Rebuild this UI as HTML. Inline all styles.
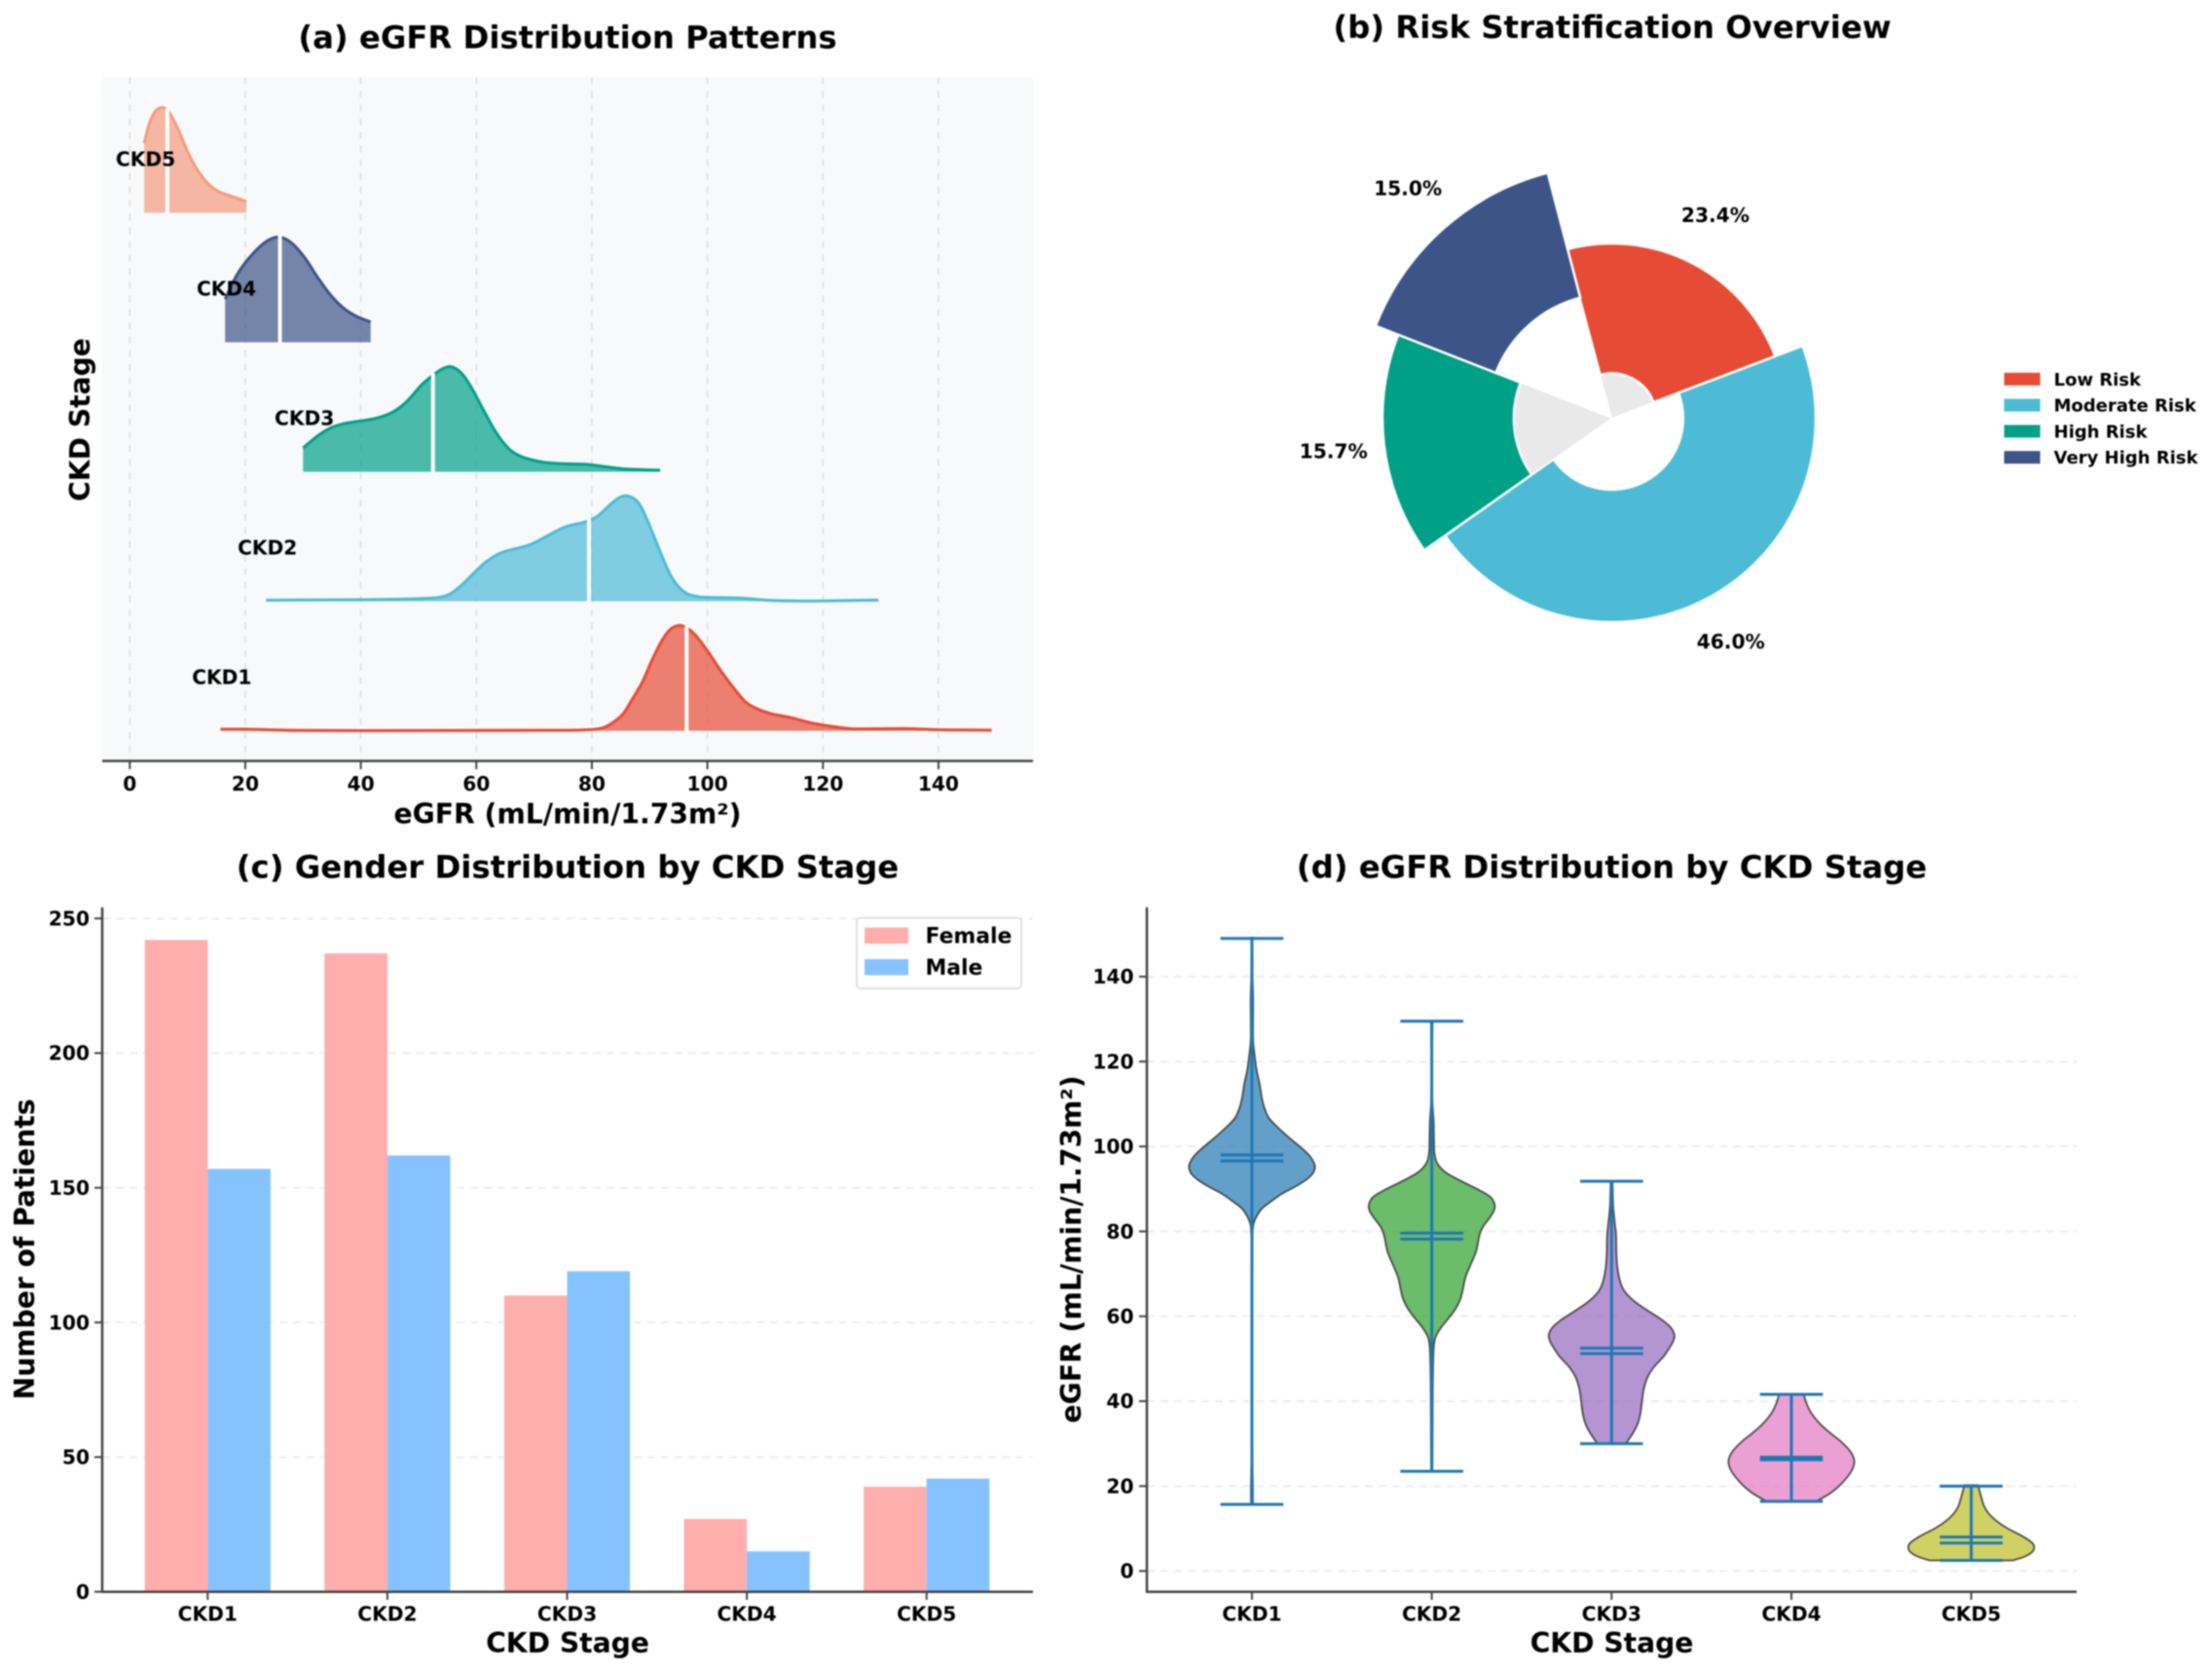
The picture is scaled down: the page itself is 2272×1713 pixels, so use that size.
<!DOCTYPE html>
<html lang="en">
<head>
<meta charset="utf-8">
<title>CKD overview figure</title>
<style>
html,body{margin:0;padding:0;background:#fff;width:2272px;height:1713px;overflow:hidden}
svg{display:block;filter:blur(0.8px)}
text{font-family:"DejaVu Sans","Liberation Sans",sans-serif;font-weight:700;fill:#000}
</style>
</head>
<body>
<svg id="fig" xmlns="http://www.w3.org/2000/svg" width="2272" height="1713" viewBox="0 0 2272 1713">
  <rect x="0" y="0" width="2272" height="1713" fill="#fff"/>
  <g id="panelA">
    <rect x="105" y="79.5" width="956" height="702" fill="#f8f9fa"/>
    <text x="583" y="49.5" font-size="32.3" text-anchor="middle">(a) eGFR Distribution Patterns</text>
    <text x="583" y="845.5" font-size="28.2" text-anchor="middle">eGFR (mL/min/1.73m²)</text>
    <text transform="translate(92,431) rotate(-90)" font-size="28.2" text-anchor="middle">CKD Stage</text>
  </g>
  <g id="panelB">
    <text x="1656" y="39" font-size="32.35" text-anchor="middle">(b) Risk Stratification Overview</text>
  </g>
  <g id="panelC">
    <text x="583" y="901.5" font-size="32.35" text-anchor="middle">(c) Gender Distribution by CKD Stage</text>
    <text x="583" y="1697" font-size="28.2" text-anchor="middle">CKD Stage</text>
    <text transform="translate(35,1283) rotate(-90)" font-size="28.2" text-anchor="middle">Number of Patients</text>
  </g>
  <g id="panelD">
    <text x="1655.5" y="901.5" font-size="32.35" text-anchor="middle">(d) eGFR Distribution by CKD Stage</text>
    <text x="1655.5" y="1697" font-size="28.2" text-anchor="middle">CKD Stage</text>
    <text transform="translate(1110,1283) rotate(-90)" font-size="28.2" text-anchor="middle">eGFR (mL/min/1.73m²)</text>
  </g>
</svg>
<script>
// ---------- data ----------
const stages = ['CKD1','CKD2','CKD3','CKD4','CKD5'];

const ckd1Egfr = [15.7,20,30,60,75,80,82,83.7,85.4,87,88.8,90.4,92.1,93.5,94.9,96,97.75,100,102.2,104.5,106.7,109,111.2,114.6,118,121.4,124.7,128.7,134.8,139.9,149.2];
const ckd1Density = [0.015,0.015,0.003,0.003,0.005,0.012,0.03,0.08,0.16,0.3,0.47,0.67,0.855,0.96,1,0.99,0.92,0.76,0.58,0.41,0.27,0.2,0.16,0.123,0.074,0.043,0.02,0.018,0.02,0.01,0.006];
const ckd2Egfr = [23.6,39.9,52.3,55.1,57.3,59.6,61.8,64.1,66.3,69.1,71.9,75.3,79.2,81,83.2,84.9,86.3,88,89.6,91.6,93.9,96.1,98.4,100,105.7,110,115,120,129.6];
const ckd2Density = [0.01,0.015,0.03,0.06,0.146,0.27,0.38,0.456,0.494,0.534,0.61,0.705,0.76,0.81,0.92,0.99,1,0.94,0.77,0.5,0.22,0.084,0.043,0.037,0.03,0.012,0.003,0.003,0.012];
const ckd3Egfr = [30,32.6,34.8,37.1,39.9,42.7,45.5,47.8,50.6,52.4,54,55.5,57.3,59,61.3,63.5,65.8,68,71.4,74.7,79.2,82.6,86,91.8];
const ckd3Density = [0.226,0.344,0.418,0.458,0.483,0.51,0.567,0.66,0.83,0.913,0.975,1,0.944,0.814,0.58,0.365,0.21,0.14,0.093,0.077,0.07,0.046,0.025,0.015];
const ckd4Egfr = [16.5,18.55,20.8,23.6,25.9,28.1,30.4,32.6,34.85,37.1,39.3,41.7];
const ckd4Density = [0.41,0.64,0.81,0.957,1,0.94,0.795,0.61,0.443,0.32,0.245,0.193];
const ckd5Egfr = [2.5,3.4,4.5,5.7,6.75,8.4,10.1,11.8,13.5,15.2,17.4,20.2];
const ckd5Density = [0.66,0.85,0.97,1,0.96,0.79,0.57,0.4,0.28,0.207,0.16,0.108];

const ridgeMedians = [96.4,79.5,52.5,26,6.5];
const ridgeTicks = [0,20,40,60,80,100,120,140];

const riskLabels = ['Low Risk','Moderate Risk','High Risk','Very High Risk'];
const riskPercent = [23.4,46.0,15.7,15.0];

const femaleCounts = [242,237,110,27,39];
const maleCounts = [157,162,119,15,42];
const countTicks = [0,50,100,150,200,250];

const violinMin = [15.7,23.5,30,16.4,2.5];
const violinMax = [149,129.5,91.8,41.6,20];
const violinMean = [98,79.6,52.5,26.8,8];
const violinMedian = [96.6,78.2,51.2,26.2,6.6];
const violinTicks = [0,20,40,60,80,100,120,140];

// ---------- helpers ----------
const NS = 'http://www.w3.org/2000/svg';
const allEgfr = [ckd1Egfr,ckd2Egfr,ckd3Egfr,ckd4Egfr,ckd5Egfr];
const allDensity = [ckd1Density,ckd2Density,ckd3Density,ckd4Density,ckd5Density];
const ridgeColors = ['#E64B35','#4DBBD5','#00A087','#3C5488','#F39B7F'];
const violinColors = ['#1f77b4','#2ca02c','#9467bd','#e377c2','#bcbd22'];
const riskColors = ['#E64B35','#4DBBD5','#00A087','#3C5488'];
const slug = s => s.toLowerCase().replace(/\s+/g,'-');

function mk(tag, parent, attrs, txt){
  const e = document.createElementNS(NS, tag);
  for (const k in attrs) e.setAttribute(k, attrs[k]);
  if (txt !== undefined) e.textContent = txt;
  parent.appendChild(e);
  return e;
}
function smooth(p){
  return 'M' + p[0][0].toFixed(2) + ' ' + p[0][1].toFixed(2) + smoothTail(p);
}
// chord-length parameterised spline: stays smooth with unevenly spaced samples
function smoothTail(p){
  const n = p.length;
  const t = [0];
  for (let i = 1; i < n; i++) t[i] = t[i-1] + Math.max(0.01, Math.hypot(p[i][0]-p[i-1][0], p[i][1]-p[i-1][1]));
  const tan = p.map((q,i) => {
    const a = Math.max(i-1,0), b = Math.min(i+1,n-1);
    const dt = t[b]-t[a];
    return [(p[b][0]-p[a][0])/dt, (p[b][1]-p[a][1])/dt];
  });
  let d = '';
  for (let i = 0; i < n-1; i++){
    const h = (t[i+1]-t[i])/3;
    d += 'C' + (p[i][0]+tan[i][0]*h).toFixed(2) + ' ' + (p[i][1]+tan[i][1]*h).toFixed(2) + ' '
      + (p[i+1][0]-tan[i+1][0]*h).toFixed(2) + ' ' + (p[i+1][1]-tan[i+1][1]*h).toFixed(2) + ' '
      + p[i+1][0].toFixed(2) + ' ' + p[i+1][1].toFixed(2);
  }
  return d;
}
function interp(xs, ys, v){
  if (v <= xs[0]) return ys[0];
  for (let i = 1; i < xs.length; i++){
    if (v <= xs[i]) return ys[i-1] + (ys[i]-ys[i-1])*(v-xs[i-1])/(xs[i]-xs[i-1]);
  }
  return ys[ys.length-1];
}

// ---------- panel a : ridgeline ----------
const gA = document.getElementById('panelA');
const xA = v => 133.3 + v*5.933;
const baseA = i => 750.5 - 133*i;
const heightA = d => d*108;

ridgeTicks.forEach(t => {
  const g = mk('line', gA, {x1:xA(t),x2:xA(t),y1:79.5,y2:781.5,stroke:'#dcdfe3','stroke-width':1.6,'stroke-dasharray':'7 7'});
  
  
});
stages.forEach((s,i) => {
  const xs = allEgfr[i], ds = allDensity[i];
  const pts = xs.map((v,k) => [xA(v), baseA(i) - heightA(ds[k])]);
  const col = ridgeColors[i];
  const fill = mk('path', gA, {d: smooth(pts) + 'L' + pts[pts.length-1][0] + ' ' + baseA(i) + 'L' + pts[0][0] + ' ' + baseA(i) + 'Z', fill:col, 'fill-opacity':0.7, stroke:'none'});
  
  
  const line = mk('path', gA, {d: smooth(pts), fill:'none', stroke:col, 'stroke-width':3, 'stroke-linejoin':'round'});
  
  
  const m = ridgeMedians[i];
  const med = mk('line', gA, {x1:xA(m),x2:xA(m),y1:baseA(i)+1,y2:baseA(i)-heightA(interp(xs,ds,m))-2.5,stroke:'#fff','stroke-width':4});
  
  
});
stages.forEach((s,i) => {
  const lab = mk('text', gA, {x:xA(allEgfr[i][0])+1.4, y:baseA(i)-54+6, 'font-size':20.2, 'text-anchor':'middle'}, s);
  
  
});
const spineA = mk('line', gA, {x1:105,x2:1061,y1:781.5,y2:781.5,stroke:'#444','stroke-width':2.5});


ridgeTicks.forEach(t => {
  const m = mk('line', gA, {x1:xA(t),x2:xA(t),y1:781.5,y2:790,stroke:'#444','stroke-width':2});
  
  
  const l = mk('text', gA, {x:xA(t),y:812,'font-size':20.2,'text-anchor':'middle'}, String(t));
  
  
});

// ---------- panel b : pie ----------
const gB = document.getElementById('panelB');
const cxB = 1655.5, cyB = 429.5;
const polar = (r,a) => [cxB + r*Math.cos(a*Math.PI/180), cyB - r*Math.sin(a*Math.PI/180)];
const ringOuter = i => 179.5 + (i === 0 ? 0 : i === 1 ? 30 : i === 2 ? 56 : 81);
const ringInner = i => 46 + 27.3*i;
const labelRadius = i => 233.5 + 27.2*i;
function ring(r0, r1, a0, a1){
  const large = (a0-a1) > 180 ? 1 : 0;
  const p1 = polar(r1,a0), p2 = polar(r1,a1);
  if (r0 <= 0) return 'M' + cxB + ' ' + cyB + 'L' + p1.join(' ') + 'A' + r1 + ' ' + r1 + ' 0 ' + large + ' 1 ' + p2.join(' ') + 'Z';
  const p3 = polar(r0,a1), p4 = polar(r0,a0);
  return 'M' + p1.join(' ') + 'A' + r1 + ' ' + r1 + ' 0 ' + large + ' 1 ' + p2.join(' ') + 'L' + p3.join(' ') + 'A' + r0 + ' ' + r0 + ' 0 ' + large + ' 0 ' + p4.join(' ') + 'Z';
}
let ang = 105;
riskPercent.forEach((p,i) => {
  const a0 = ang, a1 = ang - p*3.6;
  ang = a1;
  const outer = ringOuter(i);
  const inner = ringInner(i);
  if (i % 2 === 0){
    const core = mk('path', gB, {d: ring(0, inner, a0, a1), fill:'#e9e9e9', stroke:'#fff', 'stroke-width':1});
    
    
  }
  const w = mk('path', gB, {d: ring(inner, outer, a0, a1), fill:riskColors[i], stroke:'#fff', 'stroke-width':2.5, 'stroke-linejoin':'miter'});
  
  
  const lp = polar(labelRadius(i), (a0+a1)/2);
  const t = mk('text', gB, {x:lp[0], y:lp[1]+6.4, 'font-size':20.2, 'text-anchor':'middle'}, p.toFixed(1) + '%');
  
  
});
riskLabels.forEach((s,i) => {
  const cy = 389.3 + 26.8*i;
  const sw = mk('rect', gB, {x:2058.5,y:cy-6.5,width:37,height:13,fill:riskColors[i]});
  
  
  const t = mk('text', gB, {x:2109.5,y:cy+6.5,'font-size':18}, s);
  
  
});

// ---------- panel c : bars ----------
const gC = document.getElementById('panelC');
const xC = i => 213.3 + 184.6*i;
const yC = v => 1634.7 - v*2.766;
const barW = 64.6;
countTicks.forEach(t => {
  if (t > 0){
    const g = mk('line', gC, {x1:105,x2:1061,y1:yC(t),y2:yC(t),stroke:'#ededed','stroke-width':2,'stroke-dasharray':'8 6'});
    
    
  }
  const m = mk('line', gC, {x1:97,x2:105,y1:yC(t),y2:yC(t),stroke:'#444','stroke-width':2});
  
  
  const l = mk('text', gC, {x:92,y:yC(t)+7.2,'font-size':20.2,'text-anchor':'end'}, String(t));
  
  
});
stages.forEach((s,i) => {
  const f = mk('rect', gC, {x:xC(i)-barW,y:yC(femaleCounts[i]),width:barW,height:yC(0)-yC(femaleCounts[i]),fill:'#FFADAD'});
  
  
  const b = mk('rect', gC, {x:xC(i),y:yC(maleCounts[i]),width:barW,height:yC(0)-yC(maleCounts[i]),fill:'#85C2FF'});
  
  
  const m = mk('line', gC, {x1:xC(i),x2:xC(i),y1:1634.7,y2:1643,stroke:'#444','stroke-width':2});
  
  
  const l = mk('text', gC, {x:xC(i),y:1664.5,'font-size':20.2,'text-anchor':'middle'}, s);
  
  
});
const cs1 = mk('line', gC, {x1:105,x2:105,y1:931.8,y2:1635.9,stroke:'#444','stroke-width':2.5});


const cs2 = mk('line', gC, {x1:105,x2:1061,y1:1634.7,y2:1634.7,stroke:'#444','stroke-width':2.5});


const lb = mk('rect', gC, {x:880,y:942.7,width:169,height:72.5,rx:4,fill:'#fff','fill-opacity':0.85,stroke:'#ddd','stroke-width':1.8});


const sf = mk('rect', gC, {x:888,y:952.5,width:45,height:16.5,fill:'#FFADAD'});


const tf = mk('text', gC, {x:950.5,y:968.5,'font-size':21.9}, 'Female');


const sm = mk('rect', gC, {x:888,y:985,width:45,height:16.5,fill:'#85C2FF'});


const tm = mk('text', gC, {x:950.5,y:1001,'font-size':21.9}, 'Male');



// ---------- panel d : violins ----------
const gD = document.getElementById('panelD');
const xD = i => 1285.9 + 184.7*i;
const yD = v => 1613.4 - v*4.36;
const halfW = d => d*64.6;
const capW = 32.3;
violinTicks.forEach(t => {
  const g = mk('line', gD, {x1:1178,x2:2133,y1:yD(t),y2:yD(t),stroke:'#ededed','stroke-width':2,'stroke-dasharray':'8 6'});
  
  
  const m = mk('line', gD, {x1:1170,x2:1178,y1:yD(t),y2:yD(t),stroke:'#444','stroke-width':2});
  
  
  const l = mk('text', gD, {x:1164.5,y:yD(t)+7.2,'font-size':20.2,'text-anchor':'end'}, String(t));
  
  
});
stages.forEach((s,i) => {
  const xs = allEgfr[i], ds = allDensity[i], cx = xD(i);
  const right = xs.map((v,k) => [cx + halfW(ds[k]), yD(v)]);
  const left = xs.map((v,k) => [cx - halfW(ds[k]), yD(v)]).reverse();
  const d = smooth(right) + 'L' + left[0][0].toFixed(2) + ' ' + left[0][1].toFixed(2) + smoothTail(left) + 'Z';
  const v = mk('path', gD, {d:d, fill:violinColors[i], 'fill-opacity':0.7, stroke:'#333', 'stroke-opacity':0.85, 'stroke-width':1.8});
  
  
  const st = mk('line', gD, {x1:cx,x2:cx,y1:yD(violinMin[i]),y2:yD(violinMax[i]),stroke:'#1f77b4','stroke-width':3});
  
  
  const c1 = mk('line', gD, {x1:cx-capW,x2:cx+capW,y1:yD(violinMax[i]),y2:yD(violinMax[i]),stroke:'#1f77b4','stroke-width':3});
  
  
  const c2 = mk('line', gD, {x1:cx-capW,x2:cx+capW,y1:yD(violinMin[i]),y2:yD(violinMin[i]),stroke:'#1f77b4','stroke-width':3});
  
  
  const c3 = mk('line', gD, {x1:cx-capW,x2:cx+capW,y1:yD(violinMean[i]),y2:yD(violinMean[i]),stroke:'#1f77b4','stroke-width':3});
  
  
  const c4 = mk('line', gD, {x1:cx-capW,x2:cx+capW,y1:yD(violinMedian[i]),y2:yD(violinMedian[i]),stroke:'#1f77b4','stroke-width':3});
  
  
  const m = mk('line', gD, {x1:cx,x2:cx,y1:1634.7,y2:1643,stroke:'#444','stroke-width':2});
  
  
  const l = mk('text', gD, {x:cx,y:1664.5,'font-size':20.2,'text-anchor':'middle'}, s);
  
  
});
const ds1 = mk('line', gD, {x1:1178,x2:1178,y1:931.8,y2:1635.9,stroke:'#444','stroke-width':2.5});


const ds2 = mk('line', gD, {x1:1178,x2:2133,y1:1634.7,y2:1634.7,stroke:'#444','stroke-width':2.5});


</script>
</body>
</html>
